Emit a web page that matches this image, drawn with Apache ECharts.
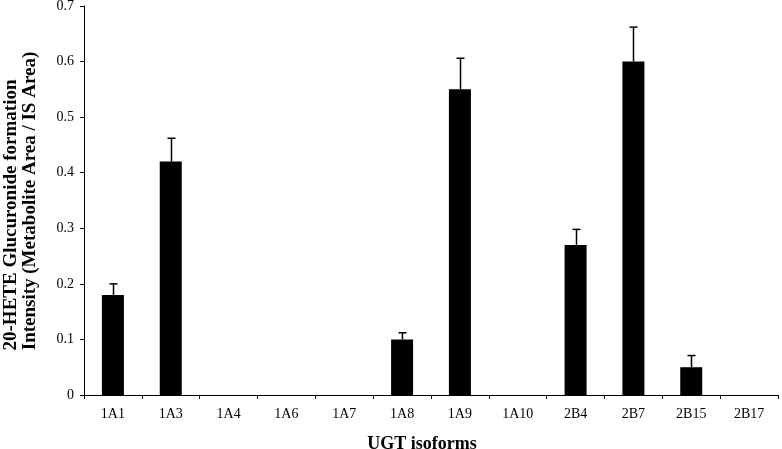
<!DOCTYPE html>
<html style="height: 100%">
<head>
    <meta charset="utf-8">
    <title>UGT isoforms</title>
    <script src="https://cdn.jsdelivr.net/npm/echarts@6/dist/echarts.min.js"></script>
</head>
<body style="height: 100%; margin: 0; background: #fff">
<div id="container" style="width: 782px; height: 449px"></div>
<script type="text/javascript">
    // 数据
    var isoforms = ['1A1', '1A3', '1A4', '1A6', '1A7', '1A8', '1A9', '1A10', '2B4', '2B7', '2B15', '2B17'];
    var intensity = [0.18, 0.42, 0, 0, 0, 0.10, 0.55, 0, 0.27, 0.60, 0.05, 0];
    var errorTop = [0.20, 0.462, null, null, null, 0.112, 0.606, null, 0.298, 0.662, 0.071, null];
    var yTitle = ['20-HETE Glucuronide formation', 'Intensity (Metabolite Area / IS Area)'];

    var dom = document.getElementById("container");
    var myChart = echarts.init(dom);

    var errData = [];
    for (var i = 0; i < isoforms.length; i++) {
        if (errorTop[i] != null) {
            errData.push([i, intensity[i], errorTop[i]]);
        }
    }

    var font = '"Liberation Serif", "Times New Roman", serif';
    var titleStyle = {fontFamily: font, fontSize: 19, fontWeight: 'bold', fill: '#000',
        textAlign: 'center', textVerticalAlign: 'middle'};

    var option = {
        animation: false,
        backgroundColor: '#fff',
        grid: {left: 84, right: 4, top: 6, bottom: 54, containLabel: false, outerBoundsMode: 'none'},
        // y 轴标题两行，位置不同，用 graphic 画
        graphic: [{
            type: 'text', x: 11, y: 215, rotation: Math.PI / 2,
            style: Object.assign({text: yTitle[0]}, titleStyle)
        }, {
            type: 'text', x: 30, y: 201, rotation: Math.PI / 2,
            style: Object.assign({text: yTitle[1]}, titleStyle)
        }],
        xAxis: {
            type: 'category',
            data: isoforms,
            name: 'UGT isoforms',
            nameLocation: 'middle',
            nameGap: 40,
            nameTextStyle: {fontFamily: font, fontSize: 18, fontWeight: 'bold', color: '#000',
                padding: [0, 18, 0, 0]},
            axisLine: {lineStyle: {color: '#000', width: 1}},
            axisTick: {show: true, length: 4, lineStyle: {color: '#000'}},
            axisLabel: {fontFamily: font, fontSize: 14, color: '#000', margin: 12}
        },
        yAxis: {
            type: 'value',
            min: 0,
            max: 0.7,
            interval: 0.1,
            splitLine: {show: false},
            axisLine: {show: true, lineStyle: {color: '#000', width: 1}},
            axisTick: {show: true, length: 4, lineStyle: {color: '#000'}},
            axisLabel: {fontFamily: font, fontSize: 14, color: '#000', margin: 10,
                formatter: function (v) { return v === 0 ? '0' : v.toFixed(1); }}
        },
        series: [{
            type: 'bar',
            data: intensity,
            barWidth: 22,
            itemStyle: {color: '#000'}
        }, {
            type: 'custom',
            data: errData,
            z: 3,
            renderItem: function (params, api) {
                var p0 = api.coord([api.value(0), api.value(1)]);
                var p1 = api.coord([api.value(0), api.value(2)]);
                var x = Math.round(p0[0]) + 0.5;
                return {
                    type: 'group',
                    children: [{
                        type: 'line',
                        shape: {x1: x, y1: p0[1], x2: x, y2: p1[1]},
                        style: {stroke: '#000', lineWidth: 1.5}
                    }, {
                        type: 'line',
                        shape: {x1: x - 4, y1: p1[1], x2: x + 4, y2: p1[1]},
                        style: {stroke: '#000', lineWidth: 1.5}
                    }]
                };
            }
        }]
    };

    myChart.setOption(option, true);
</script>
</body>
</html>
